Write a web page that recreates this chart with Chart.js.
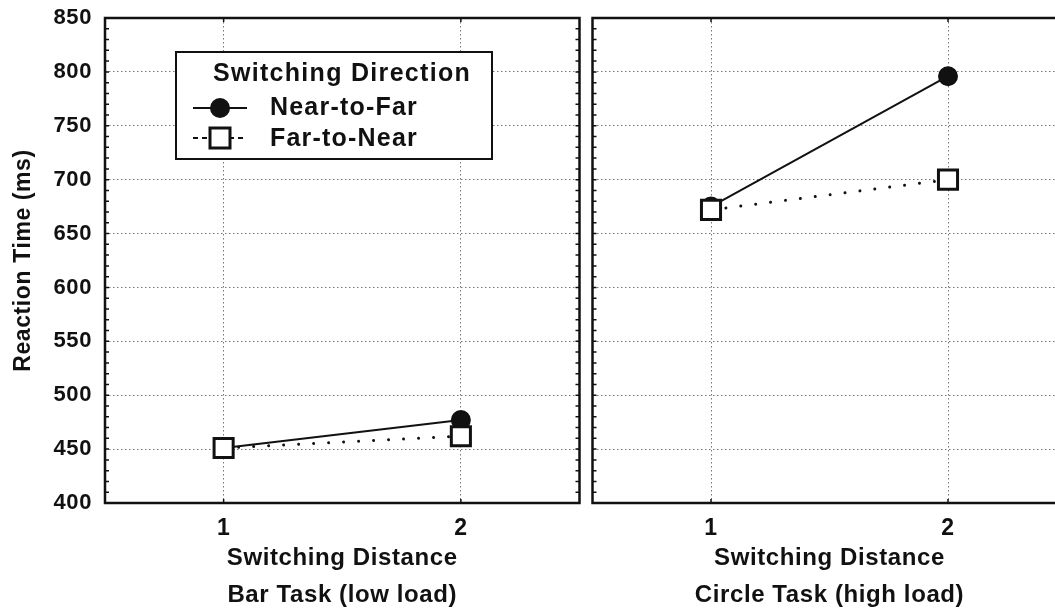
<!DOCTYPE html>
<html lang="en">
<head>
<meta charset="UTF-8">
<title>Switching distance</title>
<script src="https://cdn.jsdelivr.net/npm/chart.js@4.4.1/dist/chart.umd.min.js"></script>
<style>
  html, body { margin: 0; padding: 0; background: #fff; overflow: hidden; }
  #wrap { position: relative; width: 1055px; height: 611px; overflow: hidden; }
  #left { position: absolute; left: 0; top: 0; }
  #right { position: absolute; left: 576px; top: 0; }
</style>
</head>
<body>
<div id="wrap">
  <canvas id="left" width="596" height="611"></canvas>
  <canvas id="right" width="507" height="611"></canvas>
</div>
<script>
// data
const distances = [1, 2];
const barNearToFar = [451, 477];
const barFarToNear = [451, 462];
const circleNearToFar = [675, 796];
const circleFarToNear = [672, 700];
const yTicks = [400, 450, 500, 550, 600, 650, 700, 750, 800, 850];
const seriesNames = ['Near-to-Far', 'Far-to-Near'];
const legendTitle = 'Switching Direction';
const yTitle = 'Reaction Time (ms)';
const xTitle = 'Switching Distance';
const panelNames = ['Bar Task (low load)', 'Circle Task (high load)'];

const FONT = '"Liberation Sans", Arial, Helvetica, sans-serif';
const INK = '#111';

const toPoints = vals => distances.map((d, i) => ({ x: d, y: vals[i] }));

function makeDatasets(near, far) {
    return [
        {
            label: seriesNames[0],
            data: toPoints(near),
            borderColor: INK,
            borderWidth: 2,
            pointStyle: 'circle',
            pointRadius: 9,
            pointBorderWidth: 2,
            pointBackgroundColor: INK,
            pointBorderColor: INK,
            order: 2
        },
        {
            label: seriesNames[1],
            data: toPoints(far),
            borderColor: INK,
            borderWidth: 3,
            borderDash: [0.01, 15],
            borderCapStyle: 'round',
            pointStyle: 'rect',
            pointRadius: 13.5,
            pointBorderWidth: 3,
            pointBackgroundColor: '#fff',
            pointBorderColor: INK,
            order: 1
        }
    ];
}

// slightly open lettering like the original print
const spacing = {
    id: 'spacing',
    beforeUpdate(chart) { chart.ctx.letterSpacing = '0.6px'; },
    beforeDraw(chart) { chart.ctx.letterSpacing = '0.6px'; }
};

// box round the plot area plus small inward ticks
const frame = {
    id: 'frame',
    beforeDatasetsDraw(chart) {
        const { ctx, chartArea: a, scales: { x, y } } = chart;
        ctx.save();
        ctx.strokeStyle = INK;
        ctx.lineWidth = 1.5;
        ctx.beginPath();
        for (let v = 410; v < 850; v += 10) {
            const py = y.getPixelForValue(v);
            ctx.moveTo(a.left, py); ctx.lineTo(a.left + 4, py);
            ctx.moveTo(a.right, py); ctx.lineTo(a.right - 4, py);
        }
        distances.forEach(d => {
            const px = x.getPixelForValue(d);
            ctx.moveTo(px, a.top); ctx.lineTo(px, a.top + 4);
            ctx.moveTo(px, a.bottom); ctx.lineTo(px, a.bottom - 4);
        });
        ctx.stroke();
        ctx.lineWidth = 2.5;
        ctx.strokeRect(a.left, a.top, a.right - a.left, a.bottom - a.top);
        ctx.restore();
    }
};

// boxed legend inside the left panel
const legendBox = {
    id: 'legendBox',
    afterDatasetsDraw(chart) {
        const ctx = chart.ctx;
        const ds = chart.data.datasets;
        ctx.save();
        ctx.fillStyle = '#fff';
        ctx.fillRect(176, 52, 316, 107);
        ctx.strokeStyle = INK;
        ctx.lineWidth = 2;
        ctx.strokeRect(176, 52, 316, 107);

        ctx.fillStyle = INK;
        ctx.textBaseline = 'middle';
        ctx.textAlign = 'left';
        ctx.letterSpacing = '1.3px';
        ctx.font = 'bold 25px ' + FONT;
        ctx.fillText(legendTitle, 213, 74);
        ctx.letterSpacing = '1.2px';

        // Near-to-Far
        ctx.lineWidth = 2;
        ctx.beginPath(); ctx.moveTo(193, 108); ctx.lineTo(247, 108); ctx.stroke();
        ctx.beginPath(); ctx.arc(220, 108, 10, 0, Math.PI * 2); ctx.fill();
        ctx.fillText(ds[0].label, 270, 108);

        // Far-to-Near
        ctx.setLineDash([5, 4]);
        ctx.beginPath(); ctx.moveTo(193, 138); ctx.lineTo(247, 138); ctx.stroke();
        ctx.setLineDash([]);
        ctx.fillStyle = '#fff';
        ctx.fillRect(210, 128, 20, 20);
        ctx.lineWidth = 3;
        ctx.strokeRect(210, 128, 20, 20);
        ctx.fillStyle = INK;
        ctx.fillText(ds[1].label, 270, 139);
        ctx.restore();
    }
};

function makeOptions(panelName, showY) {
    return {
        responsive: false,
        animation: false,
        layout: { padding: { top: 18, right: 0, bottom: 0, left: 0 } },
        plugins: { legend: { display: false }, tooltip: { enabled: false } },
        scales: {
            x: {
                type: 'linear',
                min: 0.5,
                max: 2.5,
                afterBuildTicks: s => { s.ticks = distances.map(v => ({ value: v })); },
                afterFit: s => { s.height = 108; },
                grid: { color: '#777', lineWidth: 1, drawTicks: false },
                border: { display: false, dash: [1.5, 2.5] },
                ticks: {
                    color: INK,
                    padding: 12,
                    font: { family: FONT, size: 23, weight: 'bold' }
                },
                title: {
                    display: true,
                    text: [xTitle, panelName],
                    color: INK,
                    padding: { top: 0, bottom: -3 },
                    font: { family: FONT, size: 24, weight: 'bold', lineHeight: 37 / 24 }
                }
            },
            y: {
                min: 400,
                max: 850,
                afterBuildTicks: s => { s.ticks = yTicks.map(v => ({ value: v })); },
                afterFit: s => { s.width = showY ? 105 : 9; s.paddingTop = 0; s.paddingBottom = 0; },
                grid: { color: '#777', lineWidth: 1, drawTicks: false },
                border: { display: false, dash: [1.5, 2.5] },
                ticks: {
                    display: showY,
                    color: INK,
                    padding: 13,
                    font: { family: FONT, size: 22, weight: 'bold' }
                },
                title: {
                    display: showY,
                    text: yTitle,
                    color: INK,
                    padding: { top: 10, bottom: 0 },
                    font: { family: FONT, size: 23, weight: 'bold' }
                }
            }
        }
    };
}

new Chart(document.getElementById('left'), {
    type: 'line',
    data: { datasets: makeDatasets(barNearToFar, barFarToNear) },
    options: makeOptions(panelNames[0], true),
    plugins: [spacing, frame, legendBox]
});

new Chart(document.getElementById('right'), {
    type: 'line',
    data: { datasets: makeDatasets(circleNearToFar, circleFarToNear) },
    options: makeOptions(panelNames[1], false),
    plugins: [spacing, frame]
});
</script>
</body>
</html>
